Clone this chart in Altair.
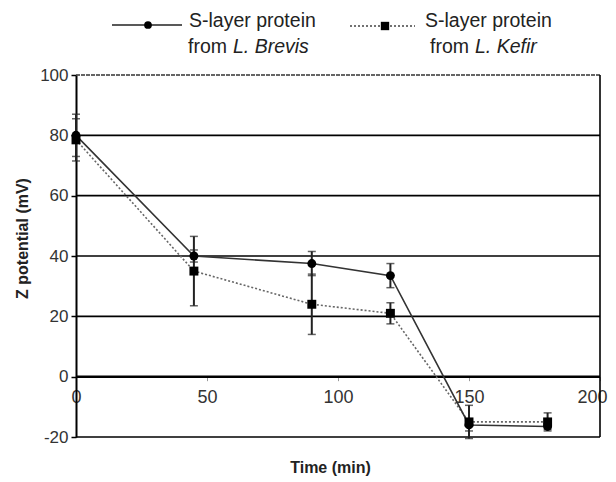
import altair as alt
import pandas as pd

# ---- data ----
time = [0, 45, 90, 120, 150, 180]
brevis = [80, 40, 37.5, 33.5, -16, -16.5]
brevis_err = [7, 2, 4, 4, 2, 1]
kefir = [78.5, 35, 24, 21, -15, -15]
kefir_err = [7, 11.5, 10, 3.5, 5.5, 3]
series_names = ["S-layer protein from L. Brevis", "S-layer protein from L. Kefir"]
grid_values = [20, 40, 60, 80]
y_ticks = [-20, 0, 20, 40, 60, 80, 100]
x_ticks = [0, 50, 100, 150, 200]
x_domain = [0, 200]
y_domain = [-20, 100]

W, H = 524, 362
FONT = "Liberation Sans"

rows = []
for t, v, e in zip(time, brevis, brevis_err):
    rows.append({"series": series_names[0], "time": t, "value": v, "lo": v - e, "hi": v + e})
for t, v, e in zip(time, kefir, kefir_err):
    rows.append({"series": series_names[1], "time": t, "value": v, "lo": v - e, "hi": v + e})
df = pd.DataFrame(rows)
dfb = df[df.series == series_names[0]]
dfk = df[df.series == series_names[1]]

xscale = alt.Scale(domain=x_domain, nice=False, zero=False)
yscale = alt.Scale(domain=y_domain, nice=False, zero=False)

zero_offset = -H * (0 - y_domain[0]) / (y_domain[1] - y_domain[0])

last_tick_test = f"datum.value == {x_domain[1]}"
xaxis = alt.Axis(values=x_ticks, offset=zero_offset, domain=False, grid=False,
                 tickSize=4, tickColor="#999", labelFontSize=18, labelColor="#333",
                 labelFont=FONT, labelPadding=8, labelFlush=False,
                 labelAlign={"condition": {"test": last_tick_test, "value": "right"}, "value": "center"},
                 labelOffset={"condition": {"test": last_tick_test, "value": 7}, "value": 0},
                 title="Time (min)", titleFont=FONT, titleFontSize=16,
                 titleFontWeight="bold", titleColor="#222", titleY=91, titleX=254,
                 titleBaseline="middle", titleAlign="center")
yaxis = alt.Axis(values=y_ticks, grid=False, domainColor="black", domainWidth=2,
                 tickSize=5, tickColor="black", tickWidth=1.5, labelFontSize=17,
                 labelColor="#333", labelFont=FONT, labelPadding=3,
                 labelExpr="replace(datum.label, '\u2212', '-')",
                 title="Z potential (mV)", titleFont=FONT, titleFontSize=16,
                 titleFontWeight="bold", titleColor="#222", titleX=-54, titleY=163,
                 titleAngle=-90, titleBaseline="middle", titleAlign="center")


def X(field):
    return alt.X(f"{field}:Q", scale=xscale, axis=xaxis, title="Time (min)")


def Y(field):
    return alt.Y(f"{field}:Q", scale=yscale, axis=yaxis, title="Z potential (mV)")


grid_df = pd.DataFrame({"g": grid_values})
grid = alt.Chart(grid_df).mark_rule(color="black", strokeWidth=1.6).encode(y=Y("g"))
zero = alt.Chart(pd.DataFrame({"g": [0]})).mark_rule(color="black", strokeWidth=2.5).encode(y=Y("g"))
bottom = alt.Chart(pd.DataFrame({"g": [y_domain[0]]})).mark_rule(color="black", strokeWidth=1.6).encode(y=Y("g"))
top = alt.Chart(pd.DataFrame({"g": [y_domain[1]]})).mark_rule(color="#333", strokeWidth=1.4, strokeDash=[4, 1]).encode(y=Y("g"))
right = alt.Chart(pd.DataFrame({"g": [x_domain[1]]})).mark_rule(color="black", strokeWidth=1.6).encode(x=X("g"))

line_b = alt.Chart(dfb).mark_line(color="#333", strokeWidth=1.6).encode(x=X("time"), y=Y("value"))
line_k = alt.Chart(dfk).mark_line(color="#666", strokeWidth=1.6, strokeDash=[2, 2]).encode(x=X("time"), y=Y("value"))

err = alt.Chart(df).mark_rule(color="#222", strokeWidth=2).encode(x=X("time"), y=Y("lo"), y2="hi:Q")
cap_lo = alt.Chart(df).mark_tick(color="#222", thickness=1.5, size=8, orient="horizontal").encode(x=X("time"), y=Y("lo"))
cap_hi = alt.Chart(df).mark_tick(color="#222", thickness=1.5, size=8, orient="horizontal").encode(x=X("time"), y=Y("hi"))

pts_b = alt.Chart(dfb).mark_point(shape="circle", filled=True, color="black", size=80, opacity=1).encode(x=X("time"), y=Y("value"))
pts_k = alt.Chart(dfk).mark_point(shape="square", filled=True, color="black", size=80, opacity=1).encode(x=X("time"), y=Y("value"))

# ---- legend (manual) ----
one = pd.DataFrame({"a": [0]})
leg_line_b = alt.Chart(one).mark_rule(color="#222", strokeWidth=1.6).encode(
    x=alt.value(36), x2=alt.value(106), y=alt.value(-50))
leg_pt_b = alt.Chart(one).mark_point(shape="circle", filled=True, color="black", size=60, opacity=1).encode(
    x=alt.value(72), y=alt.value(-50))
leg_line_k = alt.Chart(one).mark_rule(color="#444", strokeWidth=1.6, strokeDash=[2, 2]).encode(
    x=alt.value(274), x2=alt.value(339), y=alt.value(-49))
leg_pt_k = alt.Chart(one).mark_point(shape="square", filled=True, color="black", size=70, opacity=1).encode(
    x=alt.value(309), y=alt.value(-49))


def legtext(txt, x, y, italic=False):
    return alt.Chart(pd.DataFrame({"t": [txt]})).mark_text(
        align="left", baseline="alphabetic", font=FONT, fontSize=19.5, color="#222",
        fontStyle="italic" if italic else "normal").encode(
        text="t:N", x=alt.value(x), y=alt.value(y))


legend = [
    leg_line_b, leg_pt_b, leg_line_k, leg_pt_k,
    legtext("S-layer protein", 113, -48),
    legtext("from", 112, -22),
    legtext("L. Brevis", 157, -22, italic=True),
    legtext("S-layer protein", 349, -48),
    legtext("from", 354, -22),
    legtext("L. Kefir", 399, -22, italic=True),
]

chart = alt.layer(
    grid, zero, bottom, top, right, line_k, line_b, err, cap_lo, cap_hi, pts_k, pts_b, *legend
).properties(
    width=W, height=H,
    autosize=alt.AutoSizeParams(type="none"),
    padding={"left": 68, "top": 67, "right": 8, "bottom": 42},
    background="white",
).configure_view(stroke=None)

chart.save("out.html", embed_options={"renderer": "svg", "actions": False})
